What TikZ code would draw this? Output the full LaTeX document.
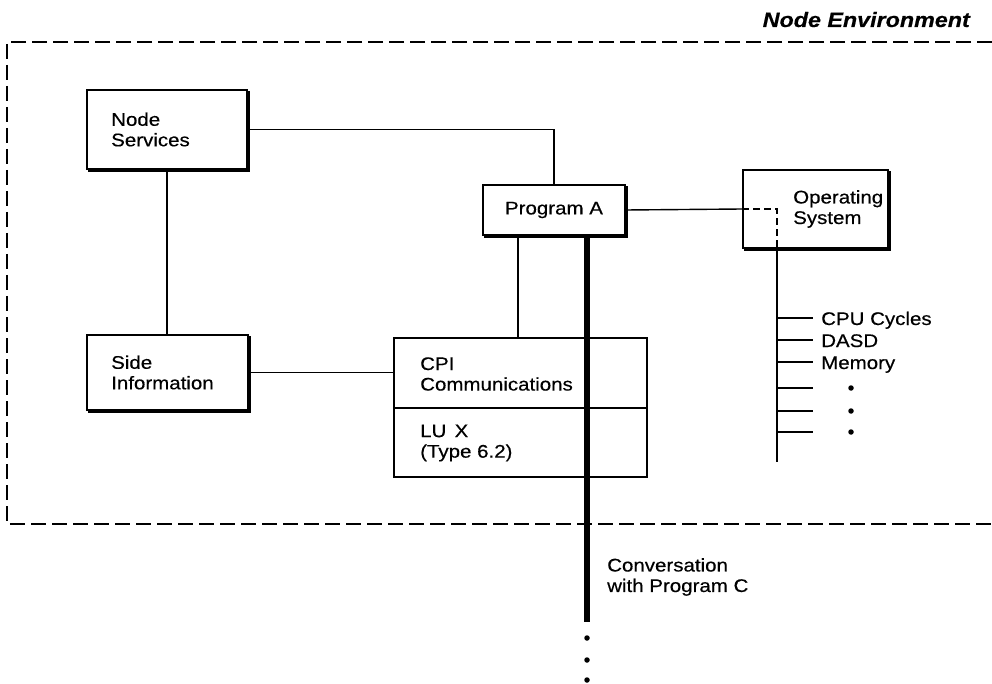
\documentclass[tikz,border=0pt]{standalone}
\usepackage{fontspec}
\setmainfont{Liberation Sans}[FakeStretch=1.12, FakeBold=0.4]
\usetikzlibrary{calc}
\begin{document}
\begin{tikzpicture}[x=1pt,y=-1pt,
  box/.style={draw, line width=1.5pt, inner sep=0pt, fill=white},
  shadowline/.style={line width=2.7pt},
  conn/.style={line width=1.4pt},
  txt/.style={font=\fontsize{18.3}{20.5}\selectfont, align=left, inner sep=0pt},
  frameline/.style={line width=1.7pt, dash pattern=on 15pt off 6pt},
  inner dashed/.style={line width=1.4pt, dash pattern=on 7pt off 4pt},
  conv/.style={line width=6pt},
  dotnode/.style={circle, fill, inner sep=0pt, minimum size=5.5pt}]
\useasboundingbox (0,0) rectangle (992,684);
\newcommand\boxshadow[1]{\draw[shadowline] ($(#1.north east)+(0.6,2)$) -- ($(#1.south east)+(0.6,0.6)$) -- ($(#1.south west)+(2,0.6)$);}

% title and frame
\node[font=\fontsize{20.8}{22}\selectfont\bfseries\itshape, inner sep=0pt, anchor=base east] (title) at (970,27) {Node Environment};
\draw[frameline] (992,42) -- (7,42) -- (7,524) -- (992,524);

% boxes
\node[box, minimum width=160, minimum height=79] (ns) at (167,129.5) {};
\boxshadow{ns}
\node[txt, anchor=west] (nst) at (111,129.5) {Node\\Services};

\node[box, minimum width=161, minimum height=75] (si) at (167.5,372.5) {};
\boxshadow{si}
\node[txt, anchor=west] (sit) at (111,372.5) {Side\\Information};

\node[box, txt, minimum width=142, minimum height=50] (pa) at (554,210) {Program A};
\boxshadow{pa}

\node[box, minimum width=145, minimum height=78] (os) at (815.5,209) {};
\boxshadow{os}
\node[txt, anchor=west] (ost) at (793,209) {Operating\\System};

\node[box, minimum width=253, minimum height=139] (cpi) at (520.5,407.5) {};
\coordinate (cpidiv) at (0,408);
\draw[conn] (cpi.west |- cpidiv) -- (cpi.east |- cpidiv);
\node[txt, anchor=west] (cpit) at (420,374) {CPI\\Communications};
\node[txt, anchor=west] (lut) at (420,443) {LU\hspace{0.45em}X\\(Type 6.2)};

% connectors
\draw[conn] (ns.east) -| (pa.north);
\draw[conn] (ns.south) -- (ns.south |- si.north);
\draw[conn] (si.east) -- (si.east -| cpi.west);
\draw[conn] ([xshift=-36pt]pa.south) -- ([xshift=-36pt]pa.south |- cpi.north);

% conversation line
\coordinate (convEnd) at (587,622);
\draw[conv] ([yshift=-1pt]pa.south -| convEnd) -- (convEnd);
\node[dotnode] (cd1) at (587,638) {};
\node[dotnode] (cd2) at (587,660) {};
\node[dotnode] (cd3) at (587,680) {};
\node[txt, anchor=west] (convt) at (607,577) {Conversation\\with Program C};

% operating system resources
\coordinate (bus) at (777,462);
\draw[conn] (pa.east) -- (os.west);
\draw[inner dashed] (os.west) -| ([yshift=-1pt]os.south -| bus);
\draw[conn] (os.south -| bus) -- (bus);
\foreach \i/\y in {1/318,2/340,3/362,4/388,5/411,6/432}{
  \coordinate (tk\i) at (813,\y);
  \draw[conn] (tk\i -| bus) -- (tk\i);
}
\node[txt, anchor=base west] (cpu) at (821,325) {CPU Cycles};
\node[txt, anchor=base west] (dasd) at (821,347) {DASD};
\node[txt, anchor=base west] (mem) at (821,369) {Memory};
\node[dotnode] (rd1) at (851,388) {};
\node[dotnode] (rd2) at (851,411) {};
\node[dotnode] (rd3) at (851,432) {};
\end{tikzpicture}
\end{document}
